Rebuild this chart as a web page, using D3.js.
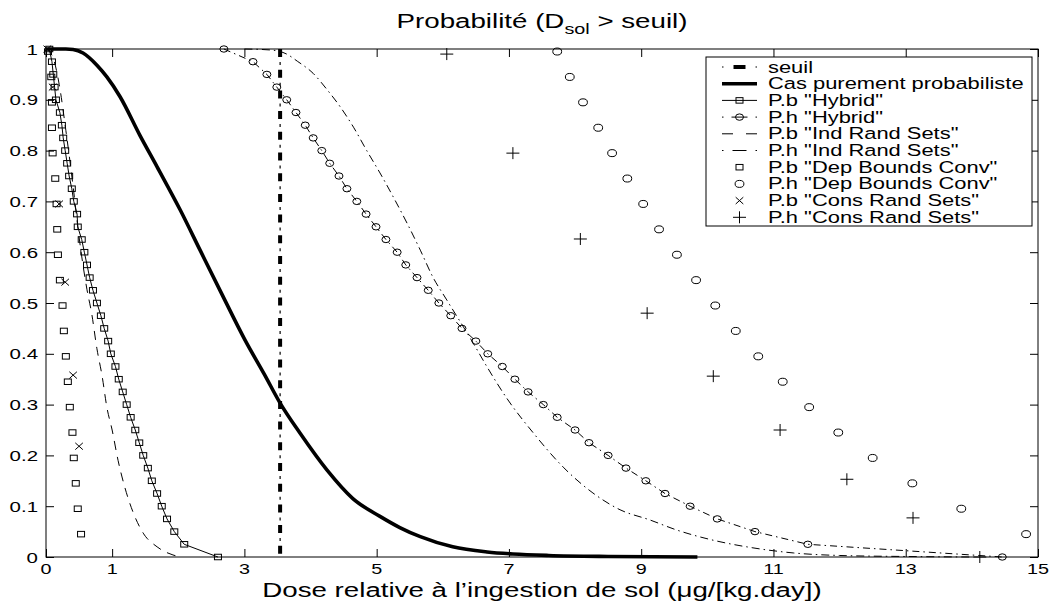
<!DOCTYPE html>
<html>
<head>
<meta charset="utf-8">
<script src="https://cdn.jsdelivr.net/npm/d3@7"></script>
<style>
  body { margin: 0; background: #fff; }
  svg { display: block; }
  text { font-family: "Liberation Sans", Arial, Helvetica, sans-serif; fill: #000; }
</style>
</head>
<body>
<svg id="chart" width="1061" height="603"></svg>
<script>
// ---- axis ticks ----
const xTicks = [0, 1, 3, 5, 7, 9, 11, 13, 15];
const xTickLabels = ["0", "1", "3", "5", "7", "9", "11", "13", "15"];
const yTicks = [0, 0.1, 0.2, 0.3, 0.4, 0.5, 0.6, 0.7, 0.8, 0.9, 1];
const yTickLabels = ["0", "0.1", "0.2", "0.3", "0.4", "0.5", "0.6", "0.7", "0.8", "0.9", "1"];

// ---- threshold ----
const seuil = 3.54;

// ---- purely probabilistic case (empirical exceedance curve) ----
const probX = [0, 0.3, 0.41, 0.56, 0.77, 0.92, 1.12, 1.42, 1.68, 2.03, 2.33, 2.65, 3.01, 3.3, 3.54, 3.84, 4.25, 4.64, 5.05, 5.35, 5.66, 6.15, 6.67, 7.06, 7.6, 8.5, 9.85];
const probY = [1, 1, 0.999, 0.992, 0.968, 0.945, 0.906, 0.83, 0.768, 0.683, 0.604, 0.52, 0.427, 0.36, 0.303, 0.244, 0.171, 0.115, 0.08, 0.058, 0.04, 0.02, 0.01, 0.006, 0.003, 0.001, 0];

// ---- Hybrid method: probability levels and lower / upper doses ----
const hybridLevels = [1, 0.975, 0.95, 0.925, 0.9, 0.875, 0.85, 0.825, 0.8, 0.775, 0.75, 0.725, 0.7, 0.675, 0.65, 0.625, 0.6, 0.575, 0.55, 0.525, 0.5, 0.475, 0.45, 0.425, 0.4, 0.375, 0.35, 0.325, 0.3, 0.275, 0.25, 0.225, 0.2, 0.175, 0.15, 0.125, 0.1, 0.075, 0.05, 0.025, 0];
const hybridLowX = [0.05, 0.09, 0.11, 0.13, 0.15, 0.21, 0.24, 0.26, 0.29, 0.32, 0.35, 0.39, 0.42, 0.47, 0.48, 0.54, 0.58, 0.62, 0.66, 0.71, 0.77, 0.83, 0.88, 0.94, 0.98, 1.05, 1.1, 1.16, 1.22, 1.28, 1.35, 1.41, 1.47, 1.54, 1.6, 1.68, 1.75, 1.83, 1.94, 2.09, 2.6];
const hybridHighX = [2.69, 3.13, 3.34, 3.49, 3.64, 3.78, 3.92, 4.04, 4.17, 4.29, 4.43, 4.55, 4.7, 4.84, 4.99, 5.14, 5.31, 5.44, 5.61, 5.78, 5.94, 6.12, 6.29, 6.5, 6.68, 6.9, 7.09, 7.29, 7.52, 7.73, 8.0, 8.21, 8.5, 8.77, 9.07, 9.36, 9.74, 10.15, 10.72, 11.52, 14.46];

// ---- Independent random sets ----
const indLowX = [0, 0.1, 0.2, 0.3, 0.4, 0.5, 0.62, 0.69, 0.77, 0.85, 0.92, 1.0, 1.09, 1.19, 1.32, 1.47, 1.68, 1.92, 2.05];
const indLowY = [1, 0.985, 0.93, 0.84, 0.74, 0.63, 0.526, 0.48, 0.41, 0.355, 0.295, 0.25, 0.19, 0.138, 0.087, 0.047, 0.02, 0.004, 0];
const indHighX = [3.0, 3.4, 3.64, 3.8, 4.04, 4.25, 4.45, 4.65, 4.85, 5.05, 5.25, 5.46, 5.66, 5.85, 6.06, 6.46, 6.67, 6.97, 7.37, 7.82, 8.27, 8.68, 9.13, 9.54, 10.09, 10.69, 11.3, 12.0, 13.0, 14.0];
const indHighY = [1, 0.998, 0.99, 0.976, 0.952, 0.92, 0.886, 0.846, 0.8, 0.756, 0.709, 0.657, 0.604, 0.551, 0.506, 0.421, 0.374, 0.312, 0.244, 0.177, 0.126, 0.093, 0.073, 0.053, 0.033, 0.018, 0.008, 0.003, 0.001, 0];

// ---- Dependent bounds convolution ----
const depLevels = [0.995, 0.945, 0.895, 0.845, 0.795, 0.745, 0.695, 0.645, 0.595, 0.545, 0.495, 0.445, 0.395, 0.345, 0.295, 0.245, 0.195, 0.145, 0.095, 0.045];
const depLowX = [0.03, 0.08, 0.09, 0.09, 0.1, 0.14, 0.16, 0.17, 0.18, 0.21, 0.25, 0.27, 0.3, 0.33, 0.36, 0.4, 0.42, 0.45, 0.48, 0.53];
const depHighX = [7.73, 7.92, 8.12, 8.35, 8.56, 8.79, 9.03, 9.27, 9.54, 9.83, 10.12, 10.43, 10.77, 11.14, 11.54, 11.98, 12.5, 13.1, 13.84, 14.82];

// ---- Conservative random sets ----
const consLowX = [0.02, 0.1, 0.2, 0.29, 0.41, 0.5];
const consLowY = [1, 0.925, 0.695, 0.541, 0.358, 0.218];
const consHighX = [6.06, 7.06, 8.08, 9.09, 10.09, 11.1, 12.11, 13.11, 14.12];
const consHighY = [0.99, 0.795, 0.626, 0.48, 0.356, 0.25, 0.153, 0.077, 0];

// ---- layout ----
const SX = 1.32;               // horizontal stretch of the lettering
const plot = { left: 46, right: 1038, top: 49, bottom: 557 };
const svg = d3.select("#chart");
const x = d3.scaleLinear().domain([0, 15]).range([plot.left, plot.right]);
const y = d3.scaleLinear().domain([0, 1]).range([plot.bottom, plot.top]);

function stretchedText(g, px, py, txt, size, anchor) {
  return g.append("text")
    .attr("transform", `translate(${px},${py}) scale(${SX},1)`)
    .attr("text-anchor", anchor)
    .attr("font-size", size)
    .text(txt);
}

// ---- ticks on all four sides, pointing inwards ----
const TL = 8;
function tickAxis(axis, tx, ty) {
  const g = svg.append("g").attr("transform", `translate(${tx},${ty})`)
    .call(axis.tickSizeInner(-TL).tickSizeOuter(0).tickFormat(""));
  g.select(".domain").remove();
  g.selectAll(".tick line").attr("stroke", "#000").attr("stroke-width", 1);
  return g;
}
tickAxis(d3.axisBottom(x).tickValues(xTicks), 0, plot.bottom);
tickAxis(d3.axisTop(x).tickValues(xTicks), 0, plot.top);
tickAxis(d3.axisLeft(y).tickValues(yTicks), plot.left, 0);
tickAxis(d3.axisRight(y).tickValues(yTicks), plot.right, 0);

// tick labels
const labels = svg.append("g");
xTicks.forEach((t, i) => stretchedText(labels, x(t), 574, xTickLabels[i], 15, "middle"));
yTicks.forEach((t, i) => stretchedText(labels, plot.left - 8, y(t) + 5.5, yTickLabels[i], 15.5, "end"));

// ---- data layer ----
const data = svg.append("g");
const line = d3.line().x(d => x(d[0])).y(d => y(d[1]));
const smooth = d3.line().x(d => x(d[0])).y(d => y(d[1])).curve(d3.curveMonotoneX);

// threshold: thick dashes with thin dots in between
data.append("line").attr("x1", x(seuil)).attr("x2", x(seuil)).attr("y1", y(1)).attr("y2", y(0))
  .attr("stroke", "#000").attr("stroke-width", 4).attr("stroke-dasharray", "8,12.7");
data.append("line").attr("x1", x(seuil)).attr("x2", x(seuil)).attr("y1", y(1)).attr("y2", y(0))
  .attr("stroke", "#000").attr("stroke-width", 1.2).attr("stroke-dasharray", "0,13,3,4.7");

// purely probabilistic curve
data.append("path").datum(d3.zip(probX, probY)).attr("d", smooth)
  .attr("fill", "none").attr("stroke", "#000").attr("stroke-width", 3.6).attr("stroke-linejoin", "round");

// independent random sets
data.append("path").datum(d3.zip(indLowX, indLowY)).attr("d", smooth)
  .attr("fill", "none").attr("stroke", "#000").attr("stroke-width", 1).attr("stroke-dasharray", "9,7");
data.append("path").datum(d3.zip(indHighX, indHighY)).attr("d", smooth)
  .attr("fill", "none").attr("stroke", "#000").attr("stroke-width", 1).attr("stroke-dasharray", "8,4,1.5,4");

// hybrid lines
data.append("path").datum(d3.zip(hybridLowX, hybridLevels)).attr("d", line)
  .attr("fill", "none").attr("stroke", "#000").attr("stroke-width", 1);
data.append("path").datum(d3.zip(hybridHighX, hybridLevels)).attr("d", line)
  .attr("fill", "none").attr("stroke", "#000").attr("stroke-width", 1).attr("stroke-dasharray", "7,4,1.5,4");

// marker shapes
function square(g, px, py, w, h) {
  g.append("rect").attr("x", px - w / 2).attr("y", py - h / 2).attr("width", w).attr("height", h)
    .attr("fill", "none").attr("stroke", "#000").attr("stroke-width", 1);
}
function ring(g, px, py, rx, ry) {
  g.append("ellipse").attr("cx", px).attr("cy", py).attr("rx", rx).attr("ry", ry)
    .attr("fill", "none").attr("stroke", "#000").attr("stroke-width", 1);
}
function plus(g, px, py) {
  g.append("path").attr("d", `M${px - 6.5},${py}H${px + 6.5}M${px},${py - 6}V${py + 6}`)
    .attr("stroke", "#000").attr("stroke-width", 1).attr("fill", "none");
}
function cross(g, px, py) {
  g.append("path").attr("d", `M${px - 3.8},${py - 3.4}L${px + 3.8},${py + 3.4}M${px - 3.8},${py + 3.4}L${px + 3.8},${py - 3.4}`)
    .attr("stroke", "#000").attr("stroke-width", 1).attr("fill", "none");
}

const marks = svg.append("g");
hybridLowX.forEach((v, i) => square(marks, x(v), y(hybridLevels[i]), 7, 5.5));
hybridHighX.forEach((v, i) => ring(marks, x(v), y(hybridLevels[i]), 4, 3.2));
depLowX.forEach((v, i) => square(marks, x(v), y(depLevels[i]), 7, 5.5));
depHighX.forEach((v, i) => ring(marks, x(v), y(depLevels[i]), 4.4, 3.5));
consLowX.forEach((v, i) => cross(marks, x(v), y(consLowY[i])));
consHighX.forEach((v, i) => plus(marks, x(v), y(consHighY[i])));

// ---- frame ----
svg.append("rect").attr("x", plot.left).attr("y", plot.top)
  .attr("width", plot.right - plot.left).attr("height", plot.bottom - plot.top)
  .attr("fill", "none").attr("stroke", "#000").attr("stroke-width", 1);

// ---- title and axis label ----
const title = svg.append("text")
  .attr("transform", `translate(${(plot.left + plot.right) / 2},28) scale(${SX},1)`)
  .attr("text-anchor", "middle").attr("font-size", 21);
title.append("tspan").text("Probabilité (D");
title.append("tspan").attr("font-size", 15).attr("dy", 6).text("sol");
title.append("tspan").attr("dy", -6).text(" > seuil)");

stretchedText(svg, (plot.left + plot.right) / 2, 597, "Dose relative à l’ingestion de sol (μg/[kg.day])", 21, "middle");

// ---- legend ----
const legendItems = [
  "seuil",
  "Cas purement probabiliste",
  "P.b \"Hybrid\"",
  "P.h \"Hybrid\"",
  "P.b \"Ind Rand Sets\"",
  "P.h \"Ind Rand Sets\"",
  "P.b \"Dep Bounds Conv\"",
  "P.h \"Dep Bounds Conv\"",
  "P.b \"Cons Rand Sets\"",
  "P.h \"Cons Rand Sets\""
];
const lg = svg.append("g");
lg.append("rect").attr("x", 706).attr("y", 57).attr("width", 326).attr("height", 169)
  .attr("fill", "#fff").attr("stroke", "#000").attr("stroke-width", 1);
const rowY = i => 67 + i * 16.7;
const sx0 = 722, sx1 = 757, sxm = (sx0 + sx1) / 2;
function seg(g, a, b, yy, w, dash) {
  const l = g.append("line").attr("x1", a).attr("x2", b).attr("y1", yy).attr("y2", yy)
    .attr("stroke", "#000").attr("stroke-width", w);
  if (dash) l.attr("stroke-dasharray", dash);
  return l;
}
legendItems.forEach((name, i) => {
  const yy = rowY(i);
  stretchedText(lg, 768, yy + 5.5, name, 16.6, "start");
  switch (i) {
    case 0: seg(lg, sx0, sx0 + 1.5, yy, 1.2); seg(lg, sxm - 6, sxm + 6, yy, 4); seg(lg, sx1 - 1.5, sx1, yy, 1.2); break;
    case 1: seg(lg, sx0, sx1, yy, 3.6); break;
    case 2: seg(lg, sx0, sx1, yy, 1); square(lg, sxm, yy, 7, 5.5); break;
    case 3: seg(lg, sx0, sx0 + 1.5, yy, 1); seg(lg, sxm - 8, sxm + 8, yy, 1); seg(lg, sx1 - 1.5, sx1, yy, 1); ring(lg, sxm, yy, 4, 3.2); break;
    case 4: seg(lg, sx0, sx0 + 11, yy, 1); seg(lg, sx1 - 11, sx1, yy, 1); break;
    case 5: seg(lg, sx0, sx0 + 1.5, yy, 1); seg(lg, sxm - 7, sxm + 7, yy, 1); seg(lg, sx1 - 1.5, sx1, yy, 1); break;
    case 6: square(lg, sxm, yy, 7, 5.5); break;
    case 7: ring(lg, sxm, yy, 4.4, 3.5); break;
    case 8: cross(lg, sxm, yy); break;
    case 9: plus(lg, sxm, yy); break;
  }
});
</script>
</body>
</html>
